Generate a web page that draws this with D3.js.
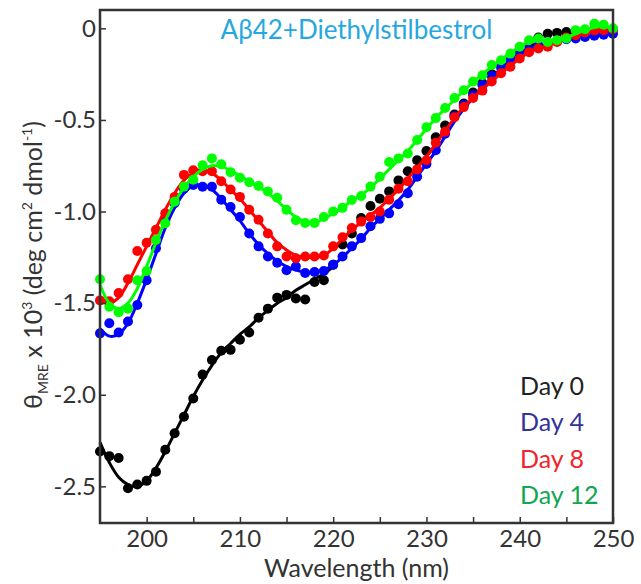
<!DOCTYPE html>
<html>
<head>
<meta charset="utf-8">
<script src="https://cdn.jsdelivr.net/npm/d3@7/dist/d3.min.js"></script>
<style>
  html, body { margin: 0; padding: 0; background: #fff; }
  svg { display: block; font-family: Lato, "Open Sans", sans-serif; }
</style>
</head>
<body>
<svg id="chart" width="641" height="584"></svg>
<script>
// ---- data ----
const wavelengths = d3.range(195, 251); // 195..250 nm, 1 nm steps
const seriesNames = ["Day 0", "Day 4", "Day 8", "Day 12"];

const day0 = [-2.31,-2.335,-2.345,-2.51,-2.49,-2.47,-2.42,-2.30,-2.21,-2.12,
  -2.02,-1.89,-1.81,-1.76,-1.755,-1.70,-1.66,-1.58,-1.53,-1.47,
  -1.455,-1.475,-1.48,-1.385,-1.375,-1.29,-1.18,-1.12,-1.035,-0.97,
  -0.93,-0.89,-0.83,-0.78,-0.72,-0.67,-0.595,-0.53,-0.47,-0.41,
  -0.35,-0.30,-0.25,-0.20,-0.16,-0.12,-0.09,-0.05,-0.03,-0.025,
  -0.02,-0.02,-0.015,-0.01,-0.01,-0.005];
const day4 = [-1.665,-1.61,-1.66,-1.60,-1.51,-1.375,-1.20,-1.05,-0.955,-0.875,
  -0.855,-0.865,-0.865,-0.935,-0.975,-1.03,-1.12,-1.19,-1.245,-1.28,
  -1.32,-1.30,-1.335,-1.33,-1.325,-1.29,-1.245,-1.19,-1.145,-1.08,
  -1.04,-1.01,-0.96,-0.90,-0.81,-0.74,-0.665,-0.575,-0.48,-0.42,
  -0.365,-0.31,-0.26,-0.215,-0.175,-0.14,-0.115,-0.095,-0.08,-0.07,
  -0.06,-0.055,-0.047,-0.04,-0.035,-0.03];
const day8 = [-1.485,-1.49,-1.445,-1.37,-1.215,-1.17,-1.10,-1.01,-0.92,-0.80,
  -0.775,-0.78,-0.78,-0.835,-0.88,-0.92,-0.99,-1.045,-1.12,-1.19,
  -1.245,-1.255,-1.245,-1.245,-1.24,-1.19,-1.14,-1.09,-1.055,-1.03,
  -1.00,-0.935,-0.875,-0.835,-0.77,-0.72,-0.625,-0.565,-0.485,-0.43,
  -0.38,-0.34,-0.29,-0.245,-0.21,-0.165,-0.13,-0.11,-0.10,-0.075,
  -0.05,-0.038,-0.022,-0.012,-0.01,-0.005];
const day12 = [-1.37,-1.52,-1.55,-1.53,-1.375,-1.325,-1.155,-1.064,-0.946,-0.864,
  -0.826,-0.748,-0.71,-0.742,-0.785,-0.815,-0.84,-0.86,-0.89,-0.925,
  -0.99,-1.048,-1.062,-1.062,-1.03,-1.00,-0.98,-0.937,-0.915,-0.864,
  -0.81,-0.73,-0.71,-0.683,-0.61,-0.54,-0.49,-0.435,-0.38,-0.338,
  -0.29,-0.256,-0.20,-0.174,-0.138,-0.10,-0.065,-0.056,-0.075,-0.065,
  -0.056,-0.01,-0.005,0.025,0.02,0.0];

// fitted curves (1 nm steps starting at 195 nm)
const fit0 = [-2.26,-2.37,-2.45,-2.49,-2.50,-2.47,-2.40,-2.31,-2.21,-2.11,
  -2.01,-1.92,-1.84,-1.77,-1.72,-1.67,-1.63,-1.58,-1.54,-1.50,
  -1.47,-1.43,-1.40,-1.37,-1.34,-1.30];
const fit4 = [-1.64,-1.68,-1.67,-1.61,-1.50,-1.37,-1.23,-1.09,-0.98,-0.90,
  -0.86,-0.855,-0.88,-0.93,-0.99,-1.05,-1.12,-1.18,-1.23,-1.27,
  -1.30,-1.32,-1.33,-1.33,-1.32,-1.29,-1.25,-1.20,-1.15,-1.09,
  -1.04,-0.99,-0.94,-0.88,-0.81,-0.74,-0.67,-0.59,-0.51,-0.44,
  -0.38,-0.32,-0.27,-0.22,-0.18,-0.145,-0.12,-0.10,-0.085,-0.07,
  -0.06,-0.05,-0.045,-0.04,-0.035,-0.03];
const fit8 = [-1.47,-1.50,-1.47,-1.39,-1.29,-1.19,-1.09,-0.99,-0.90,-0.83,
  -0.79,-0.78,-0.79,-0.83,-0.88,-0.93,-0.99,-1.05,-1.11,-1.17,
  -1.21,-1.24,-1.25,-1.25,-1.24,-1.20,-1.15,-1.10,-1.06,-1.02,
  -0.98,-0.93,-0.88,-0.82,-0.76,-0.70,-0.63,-0.56,-0.49,-0.43,
  -0.38,-0.33,-0.29,-0.245,-0.205,-0.165,-0.13,-0.11,-0.095,-0.075,
  -0.055,-0.04,-0.025,-0.015,-0.01,-0.005];
const fit12 = [-1.40,-1.50,-1.53,-1.50,-1.42,-1.30,-1.17,-1.05,-0.95,-0.87,
  -0.81,-0.77,-0.75,-0.755,-0.775,-0.805,-0.835,-0.865,-0.90,-0.94,
  -0.99,-1.03,-1.055,-1.06,-1.04,-1.01,-0.98,-0.94,-0.91,-0.87,
  -0.82,-0.77,-0.72,-0.67,-0.61,-0.55,-0.49,-0.44,-0.39,-0.34,
  -0.295,-0.25,-0.21,-0.17,-0.135,-0.10,-0.075,-0.065,-0.065,-0.06,
  -0.05,-0.03,-0.01,0.005,0.01,0.0];

const xTicks = [200, 210, 220, 230, 240, 250];
const xMinorTicks = [205, 215, 225, 235, 245];
const yTicks = [0, -0.5, -1.0, -1.5, -2.0, -2.5];
const titleText = "Aβ42+Diethylstilbestrol";

// ---- layout ----
const svg = d3.select("#chart");
const L = 100, R = 613, T = 10, B = 523;
const x = d3.scaleLinear().domain([195, 250]).range([L, R]);
const y = d3.scaleLinear().domain([-2.7, 0.1]).range([B, T]);

const dotColors = ["#000000", "#0000ff", "#ff0000", "#00ff00"];
const legendColors = ["#222222", "#33339a", "#f0242a", "#12a650"];
const dots = [day0, day4, day8, day12];
const fits = [fit0, fit4, fit8, fit12];

const plot = svg.append("g");
svg.append("clipPath").attr("id", "clip")
  .append("rect").attr("x", L - 6).attr("y", T - 6).attr("width", R - L + 12).attr("height", B - T + 12);

const line = d3.line()
  .x(d => x(d[0])).y(d => y(d[1]))
  .curve(d3.curveCatmullRom.alpha(0.5));

dots.forEach((vals, i) => {
  const g = plot.append("g").attr("clip-path", "url(#clip)");
  g.selectAll("circle").data(vals.map((v, j) => [wavelengths[j], v]))
    .join("circle")
    .attr("cx", d => x(d[0])).attr("cy", d => y(d[1]))
    .attr("r", 5).attr("fill", dotColors[i]);
  g.append("path")
    .datum(fits[i].map((v, j) => [wavelengths[j], v]))
    .attr("d", line).attr("fill", "none")
    .attr("stroke", dotColors[i]).attr("stroke-width", 3);
});

// ---- axes ----
const axisColor = "#333";
const xAxis = svg.append("g").attr("transform", `translate(0,${B})`)
  .call(d3.axisBottom(x).tickValues(xTicks).tickSizeInner(-6).tickSizeOuter(0).tickPadding(7).tickFormat(d3.format("d")));
const xMinor = svg.append("g").attr("transform", `translate(0,${B})`)
  .call(d3.axisBottom(x).tickValues(xMinorTicks).tickSizeInner(-6).tickSizeOuter(0).tickFormat(""));
const yAxis = svg.append("g").attr("transform", `translate(${L},0)`)
  .call(d3.axisLeft(y).tickValues(yTicks).tickSizeInner(-6).tickSizeOuter(0).tickPadding(4)
    .tickFormat(d => d === 0 ? "0" : d.toFixed(1)));

[xAxis, xMinor, yAxis].forEach(a => {
  a.select(".domain").remove();
  a.selectAll(".tick line").attr("stroke", axisColor).attr("stroke-width", 1.5);
  a.selectAll(".tick text").attr("fill", "#333").attr("font-size", 24)
    .attr("font-family", "Lato, 'Open Sans', sans-serif");
});

svg.append("rect").attr("x", L).attr("y", T).attr("width", R - L).attr("height", B - T)
  .attr("fill", "none").attr("stroke", axisColor).attr("stroke-width", 2.5);

// ---- title ----
svg.append("text").attr("x", (L + R) / 2).attr("y", 39).attr("text-anchor", "middle")
  .attr("font-size", 26).attr("fill", "#27a7df").text(titleText);

// ---- axis labels ----
svg.append("text").attr("x", (L + R) / 2).attr("y", 577).attr("text-anchor", "middle")
  .attr("font-size", 25).attr("fill", "#333").text("Wavelength (nm)");

const yl = svg.append("text").attr("transform", `translate(42,265) rotate(-90)`)
  .attr("text-anchor", "middle").attr("font-size", 25).attr("fill", "#333");
yl.append("tspan").text("θ");
yl.append("tspan").attr("font-size", 14).attr("dy", 6).text("MRE");
yl.append("tspan").attr("dy", -6).text(" x 10");
yl.append("tspan").attr("font-size", 14).attr("dy", -10).text("3");
yl.append("tspan").attr("dy", 10).text(" (deg cm");
yl.append("tspan").attr("font-size", 14).attr("dy", -10).text("2");
yl.append("tspan").attr("dy", 10).text(" dmol");
yl.append("tspan").attr("font-size", 14).attr("dy", -10).text("-1");
yl.append("tspan").attr("dy", 10).text(")");

// ---- legend ----
seriesNames.forEach((name, i) => {
  svg.append("text").attr("x", 520).attr("y", 395 + i * 36.3)
    .attr("font-size", 25).attr("fill", legendColors[i]).text(name);
});
</script>
</body>
</html>
